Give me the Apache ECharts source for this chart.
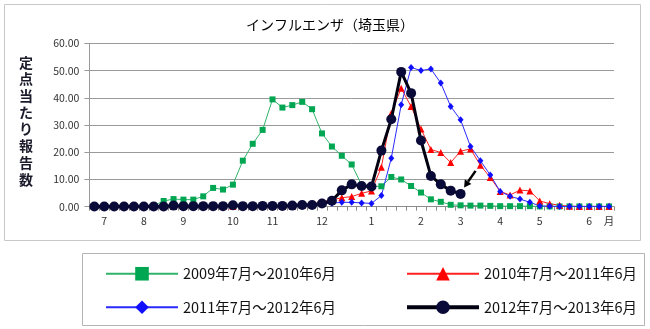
<!DOCTYPE html>
<html>
<head>
<meta charset="utf-8">
<script src="https://cdn.jsdelivr.net/npm/echarts@6/dist/echarts.min.js"></script>
<style>
  html, body { margin: 0; padding: 0; background: #fff; }
  #chart { width: 650px; height: 329px; }
</style>
</head>
<body>
<div id="chart"></div>
<script>
// Weekly categories, July (week 27) through the following June; only month starts are labelled
const weekLabels = ['', '7', '', '', '', '8', '', '', '', '9', '', '', '', '', '10', '', '', '', '11', '', '', '', '', '12',
  '', '', '', '', '1', '', '', '', '', '2', '', '', '', '3', '', '', '', '4', '', '', '', '5', '', '', '', '', '6', '', '月'];

const seasonNames = ['2009年7月～2010年6月', '2010年7月～2011年6月', '2011年7月～2012年6月', '2012年7月～2013年6月'];

// Reports per sentinel site, one value per week
const season2009 = [0.0, 0.0, 0.0, 0.0, 0.0, 0.1, 0.4, 2.1, 2.8, 2.6, 2.6, 3.8, 6.9, 6.3, 8.1, 16.9, 23.1, 28.2, 39.4, 36.4,
  37.3, 38.5, 35.8, 26.9, 22.1, 18.7, 15.5, 8.0, 7.4, 7.5, 10.9, 10.0, 7.6, 5.2, 2.7, 1.8, 0.7, 0.5, 0.4, 0.4,
  0.3, 0.2, 0.2, 0.2, 0.2, 0.1, 0.1, 0.1, 0.1, 0.1, 0.1, 0.1, 0.1];
const season2010 = [0.1, 0.1, 0.1, 0.1, 0.1, 0.1, 0.1, 0.1, 0.1, 0.1, 0.1, 0.1, 0.1, 0.1, 0.1, 0.1, 0.1, 0.2, 0.2, 0.2,
  0.3, 0.5, 0.8, 1.8, 2.5, 3.3, 3.7, 4.9, 5.8, 14.5, 34.3, 43.5, 36.8, 28.5, 21.0, 19.9, 16.2, 20.4, 21.2, 15.2,
  10.7, 5.6, 4.3, 6.1, 5.8, 2.1, 1.1, 0.5, 0.2, 0.1, 0.1, 0.1, 0.1];
const season2011 = [0.1, 0.1, 0.1, 0.1, 0.1, 0.1, 0.1, 0.1, 0.1, 0.1, 0.1, 0.1, 0.1, 0.1, 0.1, 0.1, 0.1, 0.1, 0.1, 0.1,
  0.1, 0.2, 0.5, 1.0, 1.3, 1.6, 1.6, 1.4, 1.2, 4.1, 17.8, 37.4, 51.1, 50.0, 50.6, 45.4, 36.8, 31.9, 22.1, 16.9,
  11.6, 5.6, 3.8, 2.8, 1.6, 0.3, 0.2, 0.1, 0.1, 0.1, 0.1, 0.1, 0.1];
const season2012 = [0.1, 0.1, 0.1, 0.1, 0.1, 0.1, 0.1, 0.1, 0.4, 0.2, 0.2, 0.2, 0.2, 0.2, 0.5, 0.2, 0.2, 0.3, 0.3, 0.3,
  0.4, 0.6, 0.6, 1.2, 2.2, 6.0, 8.2, 7.6, 7.4, 20.6, 32.1, 49.5, 41.7, 24.3, 11.3, 8.2, 5.9, 4.7,
  null, null, null, null, null, null, null, null, null, null, null, null, null, null, null];

const yTicks = { min: 0, max: 60, step: 10 };

const FONT = '"Noto Sans CJK JP", "Noto Sans", sans-serif';
const chart = echarts.init(document.getElementById('chart'), null, { renderer: 'canvas' });

const legendText = { fontFamily: FONT, fontSize: 14.5, color: '#111' };

const option = {
  animation: false,
  backgroundColor: '#fff',
  title: {
    text: 'インフルエンザ（埼玉県）',
    left: 241, top: 13,
    textStyle: { fontFamily: FONT, fontSize: 14, fontWeight: 'normal', color: '#000' }
  },
  grid: { left: 89.4, right: 36, top: 43.3, bottom: 122.3 },
  xAxis: {
    type: 'category',
    data: weekLabels,
    boundaryGap: true,
    axisLine: { lineStyle: { color: '#8c8c8c', width: 1 } },
    axisTick: { show: true, interval: 0, length: 4, lineStyle: { color: '#8c8c8c' } },
    axisLabel: { interval: 0, margin: 9, fontFamily: FONT, fontSize: 10.5, color: '#333' },
    splitLine: { show: false }
  },
  yAxis: {
    type: 'value',
    min: yTicks.min, max: yTicks.max, interval: yTicks.step,
    axisLine: { show: true, lineStyle: { color: '#9a9a9a' } },
    axisTick: { show: true, length: 5, lineStyle: { color: '#9a9a9a' } },
    axisLabel: { margin: 10, fontFamily: FONT, fontSize: 10.5, color: '#333', formatter: v => v.toFixed(2) },
    splitLine: { lineStyle: { color: '#9a9a9a', width: 1 } }
  },
  legend: [
    {
      orient: 'vertical', left: 100, top: 261.5, itemWidth: 72, itemHeight: 17, itemGap: 19,
      textStyle: legendText,
      data: [
        { name: seasonNames[0], lineStyle: { width: 2 } },
        { name: seasonNames[2], lineStyle: { width: 2 } }
      ]
    },
    {
      orient: 'vertical', left: 400, top: 261.5, itemWidth: 72, itemHeight: 17, itemGap: 19,
      textStyle: legendText,
      data: [
        { name: seasonNames[1], lineStyle: { width: 2 } },
        { name: seasonNames[3], lineStyle: { width: 4 } }
      ]
    }
  ],
  series: [
    {
      name: seasonNames[0], type: 'line', data: season2009,
      symbol: 'rect', symbolSize: 6, showAllSymbol: true,
      itemStyle: { color: '#00a651' },
      lineStyle: { width: 1, color: '#2fb36a' }
    },
    {
      name: seasonNames[1], type: 'line', data: season2010,
      symbol: 'triangle', symbolSize: 7, showAllSymbol: true,
      itemStyle: { color: '#ff0000' },
      lineStyle: { width: 1, color: '#ff2020' }
    },
    {
      name: seasonNames[2], type: 'line', data: season2011,
      symbol: 'diamond', symbolSize: [6, 7], showAllSymbol: true,
      itemStyle: { color: '#1010ff' },
      lineStyle: { width: 1, color: '#2a2aff' }
    },
    {
      name: seasonNames[3], type: 'line', data: season2012, connectNulls: false,
      symbol: 'circle', symbolSize: 10, showAllSymbol: true,
      itemStyle: { color: '#0a0a38' },
      lineStyle: { width: 3, color: '#000010' },
      z: 5
    }
  ],
  graphic: [
    // chart frame
    { type: 'rect', shape: { x: 4.5, y: 4.5, width: 636, height: 236 }, style: { fill: null, stroke: '#c8c8c8', lineWidth: 1 }, silent: true },
    // legend frame
    { type: 'rect', shape: { x: 82.5, y: 253.5, width: 562, height: 72 }, style: { fill: null, stroke: '#b4b4b4', lineWidth: 1 }, silent: true },
    // vertical axis caption
    {
      type: 'text', left: 19, top: 54,
      style: {
        text: '定点当たり報告数'.split('').join('\n'),
        font: 'bold 14px ' + FONT, fill: '#1a1a2a', lineHeight: 16.7, align: 'center'
      }
    }
  ]
};

chart.setOption(option);

// Pointer arrow toward the latest weekly value of the current season
let lastIdx = season2012.length - 1;
while (lastIdx > 0 && season2012[lastIdx] == null) lastIdx--;
const p = chart.convertToPixel({ seriesIndex: 3 }, [lastIdx, season2012[lastIdx]]);
const tail = [p[0] + 15, p[1] - 23];
const tip = [p[0] + 3.5, p[1] - 6.5];
const dx = tip[0] - tail[0], dy = tip[1] - tail[1];
const len = Math.hypot(dx, dy);
const ux = dx / len, uy = dy / len;
const headLen = 7, headW = 4;
const base = [tip[0] - ux * headLen, tip[1] - uy * headLen];
chart.setOption({
  graphic: option.graphic.concat([
    { type: 'line', shape: { x1: tail[0], y1: tail[1], x2: base[0], y2: base[1] }, style: { stroke: '#000', lineWidth: 2.5 }, z: 10 },
    {
      type: 'polygon', z: 10,
      shape: { points: [tip, [base[0] - uy * headW, base[1] + ux * headW], [base[0] + uy * headW, base[1] - ux * headW]] },
      style: { fill: '#000' }
    }
  ])
});
</script>
</body>
</html>
